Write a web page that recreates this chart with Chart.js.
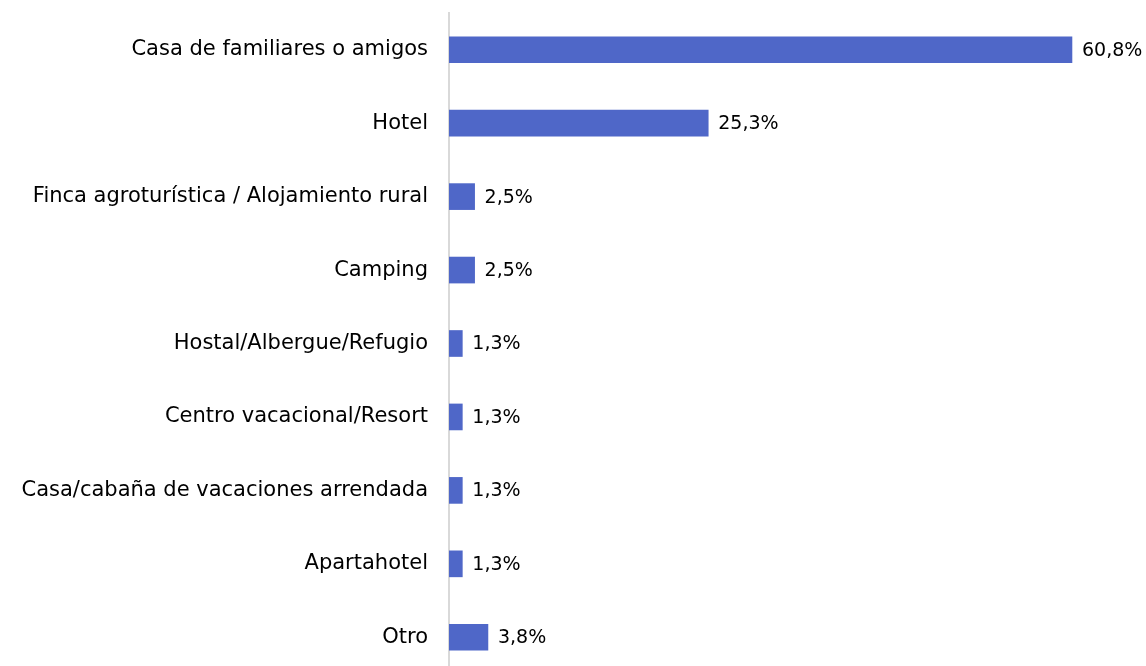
<!DOCTYPE html>
<html>
<head>
<meta charset="utf-8">
<script src="https://cdn.jsdelivr.net/npm/chart.js@4.4.0/dist/chart.umd.min.js"></script>
<style>
html,body{margin:0;padding:0;background:#fff;overflow:hidden}
canvas{display:block}
</style>
</head>
<body>
<canvas id="myChart" width="1146" height="674"></canvas>
<script>
const categories=["Casa de familiares o amigos","Hotel","Finca agroturística / Alojamiento rural","Camping","Hostal/Albergue/Refugio","Centro vacacional/Resort","Casa/cabaña de vacaciones arrendada","Apartahotel","Otro"]
const values=[60.8,25.3,2.5,2.5,1.3,1.3,1.3,1.3,3.8]
const valueLabels=["60,8%","25,3%","2,5%","2,5%","1,3%","1,3%","1,3%","1,3%","3,8%"]

const FONT="'DejaVu Sans', sans-serif"

// simple value labels at the end of each bar
const barLabels={
    id:'barLabels',
    afterDatasetsDraw(chart){
        let ctx=chart.ctx
        let meta=chart.getDatasetMeta(0)
        ctx.save()
        ctx.font="19px "+FONT
        ctx.fillStyle="#000"
        ctx.textBaseline="middle"
        ctx.textAlign="left"
        meta.data.forEach((bar,i)=>{
            ctx.fillText(valueLabels[i],bar.x+10,bar.y+1)
        })
        ctx.restore()
    }
}

let ctx=document.getElementById('myChart').getContext('2d')
let myChart=new Chart(ctx,{
    type:'bar',
    data:{
        labels:categories,
        datasets:[{
            data:values,
            backgroundColor:'#4F67C8',
            barThickness:26
        }]
    },
    options:{
        indexAxis:'y',
        responsive:false,
        animation:false,
        layout:{padding:{top:13,right:31,left:0,bottom:0}},
        plugins:{legend:{display:false},tooltip:{enabled:false}},
        scales:{
            x:{display:false,min:0,max:65},
            y:{
                grid:{display:false,drawTicks:false},
                border:{display:true,color:'#d9d9d9',width:2},
                ticks:{color:'#000',padding:21,font:{family:FONT,size:21}},
                afterFit(scale){
                    // keep the plot box where the original has it
                    scale.width=449
                    scale.paddingTop=0
                    scale.paddingBottom=0
                }
            }
        }
    },
    plugins:[barLabels]
})
</script>
</body>
</html>
